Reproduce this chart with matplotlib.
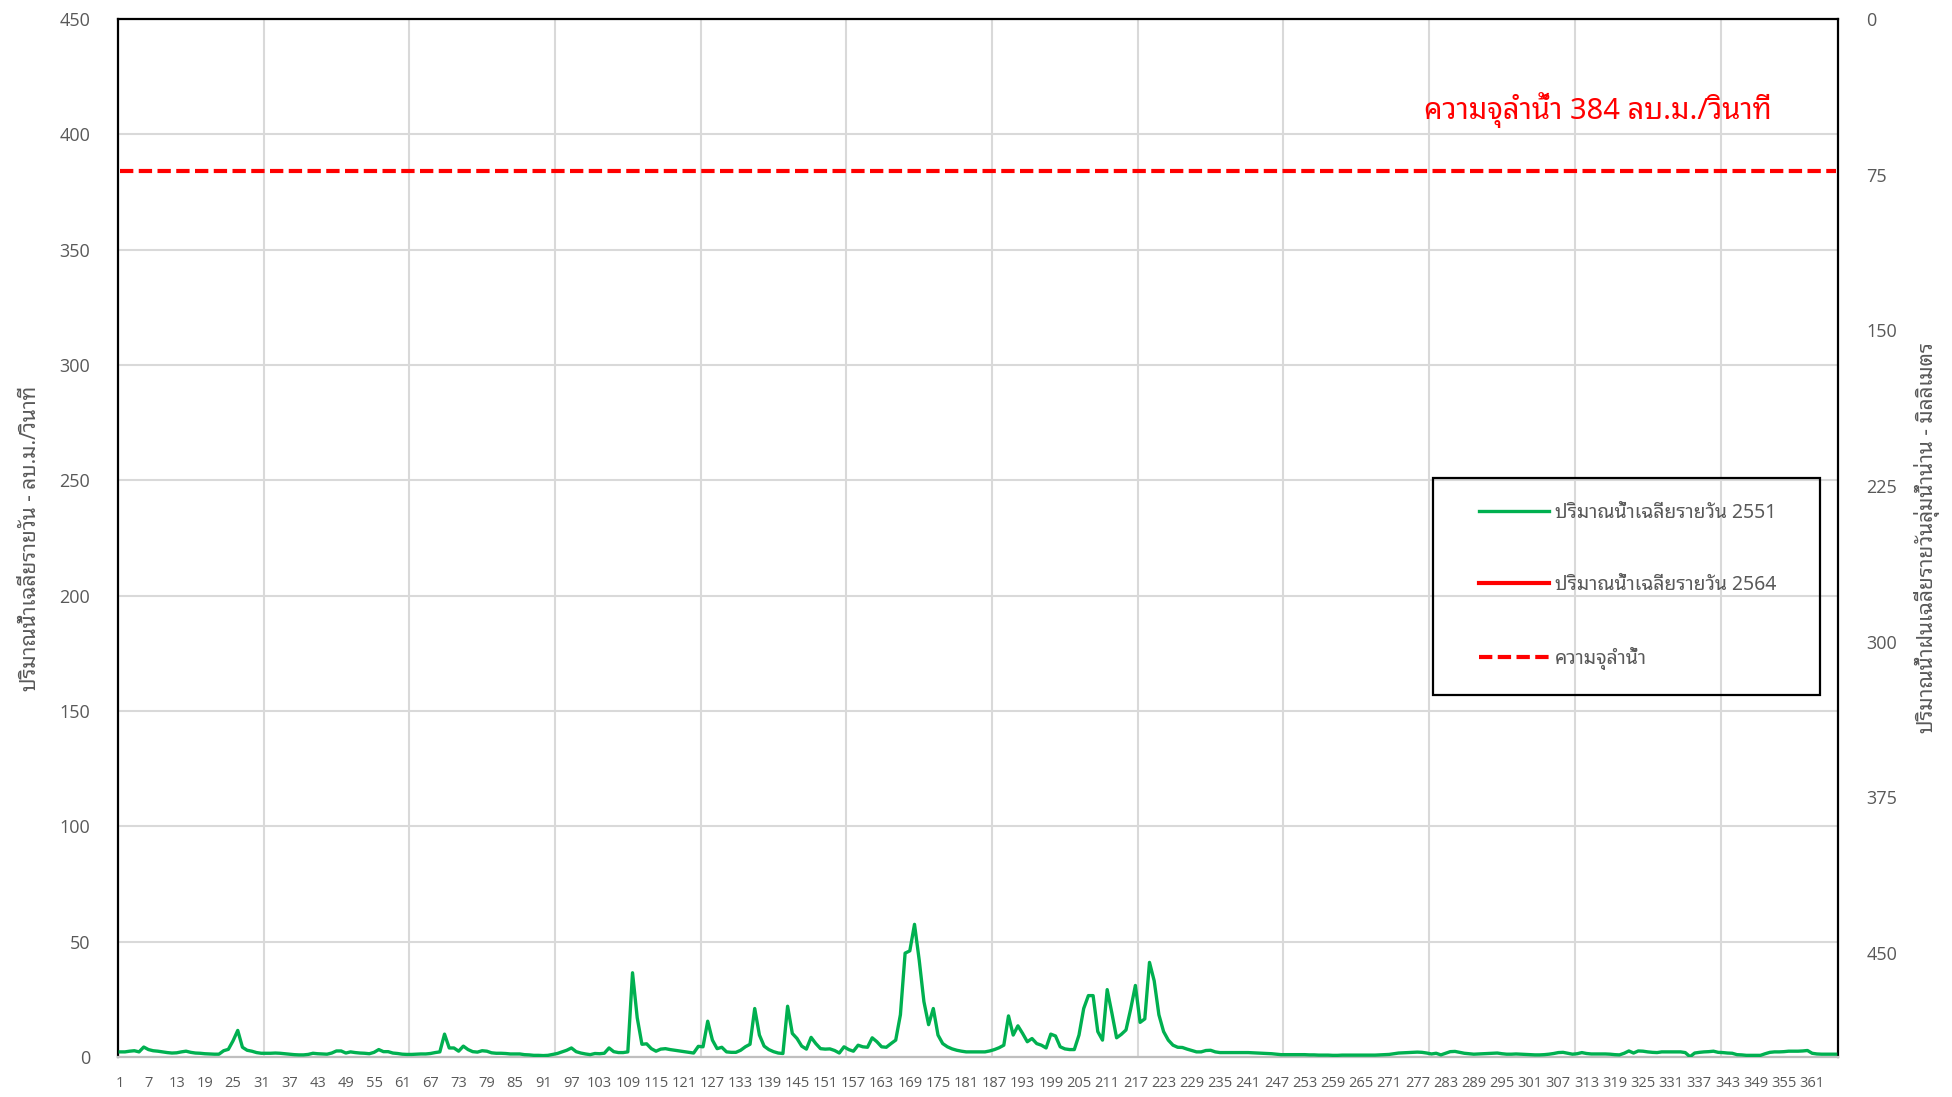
# ปริมาณน้ำเฉลี่ยรายวัน ลุ่มน้ำน่าน ปี 2551 เทียบความจุลำน้ำ
import matplotlib
matplotlib.use("Agg")
import matplotlib.pyplot as plt
import numpy as np
from matplotlib import font_manager
from matplotlib.ft2font import FT2Font
from matplotlib.patches import Rectangle


# ===== ข้อมูล =====
days = np.arange(1, 367)

# ปริมาณน้ำเฉลี่ยรายวัน 2551 (ลบ.ม./วินาที) อ่านจากกราฟ
flow_2551 = [
    2.2, 2.2, 2.5, 2.7, 2.2, 4.3, 3.2, 2.7, 2.5, 2.2,
    1.9, 1.7, 1.8, 2.2, 2.5, 2.0, 1.7, 1.6, 1.4, 1.3,
    1.2, 1.2, 2.7, 3.3, 7.0, 11.5, 4.2, 2.9, 2.5, 1.9,
    1.6, 1.6, 1.6, 1.7, 1.6, 1.4, 1.2, 1.0, 0.9, 0.9,
    1.1, 1.6, 1.4, 1.3, 1.2, 1.7, 2.6, 2.6, 1.7, 2.2,
    1.9, 1.7, 1.6, 1.4, 2.0, 3.2, 2.3, 2.3, 1.7, 1.5,
    1.2, 1.1, 1.1, 1.2, 1.3, 1.3, 1.5, 1.9, 2.2, 9.9,
    3.9, 3.9, 2.5, 4.7, 3.2, 2.3, 2.1, 2.7, 2.5, 1.8,
    1.6, 1.6, 1.5, 1.3, 1.3, 1.3, 1.0, 0.9, 0.7, 0.7,
    0.6, 0.7, 1.1, 1.5, 2.2, 2.9, 3.9, 2.3, 1.7, 1.3,
    1.0, 1.5, 1.4, 1.6, 3.9, 2.3, 1.9, 1.9, 2.2, 36.5,
    17.0, 5.5, 5.7, 3.6, 2.5, 3.4, 3.6, 3.2, 2.9, 2.6,
    2.3, 2.0, 1.7, 4.6, 4.4, 15.5, 7.3, 3.6, 4.2, 2.2,
    2.0, 2.0, 2.9, 4.4, 5.5, 21.0, 9.5, 4.7, 3.2, 2.3,
    1.7, 1.5, 22.0, 10.2, 8.0, 4.7, 3.4, 8.5, 5.8, 3.6,
    3.4, 3.5, 2.8, 1.7, 4.4, 3.2, 2.5, 5.1, 4.4, 4.2,
    8.3, 6.6, 4.4, 4.2, 5.8, 7.3, 18.3, 45.0, 46.0, 57.5,
    42.0, 24.0, 14.0, 21.0, 9.5, 5.8, 4.4, 3.5, 2.9, 2.5,
    2.2, 2.2, 2.2, 2.2, 2.2, 2.6, 3.2, 4.0, 5.1, 17.8,
    9.5, 13.5, 10.2, 6.6, 8.0, 5.8, 5.1, 3.9, 9.9, 9.1,
    4.4, 3.5, 3.2, 3.2, 9.5, 21.0, 26.6, 26.6, 11.0, 7.3,
    29.2, 19.0, 8.3, 9.8, 11.7, 20.8, 31.0, 15.0, 16.5, 41.0,
    33.0, 18.3, 11.0, 7.3, 5.1, 4.2, 4.1, 3.4, 2.8, 2.2,
    2.2, 2.8, 2.9, 2.2, 1.9, 1.9, 1.9, 1.9, 1.9, 1.9,
    1.9, 1.8, 1.7, 1.6, 1.5, 1.4, 1.2, 1.0, 1.0, 1.0,
    1.0, 1.0, 1.0, 0.9, 0.9, 0.8, 0.8, 0.8, 0.7, 0.7,
    0.8, 0.8, 0.8, 0.8, 0.8, 0.8, 0.8, 0.8, 0.9, 1.0,
    1.1, 1.4, 1.7, 1.8, 1.9, 2.0, 2.1, 2.0, 1.7, 1.3,
    1.6, 0.9, 1.6, 2.3, 2.4, 2.0, 1.6, 1.4, 1.2, 1.3,
    1.4, 1.5, 1.6, 1.7, 1.4, 1.2, 1.2, 1.3, 1.2, 1.1,
    1.0, 0.9, 0.9, 1.0, 1.2, 1.5, 1.9, 2.0, 1.6, 1.2,
    1.4, 1.9, 1.5, 1.3, 1.3, 1.3, 1.3, 1.2, 1.0, 0.9,
    1.6, 2.6, 1.7, 2.6, 2.5, 2.2, 2.0, 1.9, 2.2, 2.2,
    2.2, 2.2, 2.2, 1.9, 0.1, 1.7, 2.0, 2.2, 2.3, 2.5,
    2.0, 1.9, 1.7, 1.6, 1.0, 0.9, 0.7, 0.7, 0.7, 0.7,
    1.4, 2.0, 2.2, 2.2, 2.3, 2.5, 2.5, 2.5, 2.6, 2.8,
    1.6, 1.3, 1.2, 1.2, 1.2, 1.2,
]
flow_2564 = []          # ไม่มีข้อมูลปรากฏในกราฟ
capacity = 384          # ความจุลำน้ำ
capacity_line = [capacity] * len(days)

x_labels = list(range(1, 367, 6))
left_ticks = list(range(0, 451, 50))
right_ticks = list(range(0, 451, 75))

label_2551 = "ปริมาณน้ำเฉลี่ยรายวัน 2551"
label_2564 = "ปริมาณน้ำเฉลี่ยรายวัน 2564"
label_cap = "ความจุลำน้ำ"
cap_text = "ความจุลำน้ำ 384 ลบ.ม./วินาที"
left_title = "ปริมาณน้ำเฉลี่ยรายวัน - ลบ.ม./วินาที"
right_title = "ปริมาณน้ำฝนเฉลี่ยรายวันลุ่มน้ำน่าน - มิลลิเมตร"


# หาฟอนต์ที่มีอักษรไทย
def find_thai_font():
    found = []
    for f in font_manager.fontManager.ttflist:
        try:
            cmap = FT2Font(f.fname).get_charmap()
        except Exception:
            continue
        if 0x0E04 in cmap and 0x0E33 in cmap:
            found.append(f.name)
    for pref in ["Noto Sans Thai Looped", "Loma", "Noto Sans Thai UI", "Noto Sans Thai", "Garuda"]:
        if pref in found:
            return pref
    return found[0] if found else "DejaVu Sans"


THAI = find_thai_font()
NUM = "Open Sans"
GRAY = "#595959"
GRID = "#D9D9D9"

plt.rcParams["font.family"] = [THAI, "DejaVu Sans"]

fig = plt.figure(figsize=(19.52, 10.97), dpi=100)
ax = fig.add_axes([0.0604, 0.0365, 0.8812, 0.9462])

ax.plot(days, flow_2551, color="#00B050", lw=2.4, zorder=3, label=label_2551)
ax.plot(days[:len(flow_2564)], flow_2564, color="#FF0000", lw=3, zorder=3, label=label_2564)
ax.plot(days, capacity_line, color="#FF0000", lw=3, dashes=(3.2, 1.3), zorder=3, label=label_cap)

ax.set_xlim(0.5, 366.5)
ax.set_ylim(0, 450)
ax.set_yticks(left_ticks)
ax.set_xticks(x_labels)
ax.set_xticks(np.arange(31.5, 366, 31), minor=True)
ax.grid(axis="y", which="major", color=GRID, lw=1.5, zorder=0)
ax.grid(axis="x", which="minor", color=GRID, lw=1.5, zorder=0)
ax.tick_params(axis="both", which="both", length=0)
ax.tick_params(axis="y", labelsize=13, labelcolor=GRAY, pad=20)
ax.tick_params(axis="x", labelsize=10.5, labelcolor=GRAY, pad=14)
for t in ax.get_xticklabels() + ax.get_yticklabels():
    t.set_fontfamily(NUM)

for s in ["top", "left", "right"]:
    ax.spines[s].set_color("black")
    ax.spines[s].set_linewidth(1.6)
ax.spines["bottom"].set_color("#BFBFBF")
ax.spines["bottom"].set_linewidth(1.6)

ax.set_ylabel(left_title, fontsize=15, color=GRAY)
ax.yaxis.set_label_coords(-0.0447, 0.5)

ax.text(315.3, 410.6, cap_text, color="#FF0000", fontsize=21, ha="center", va="center")

# แกนขวา: ปริมาณน้ำฝน (กลับด้าน)
ax2 = ax.twinx()
ax2.set_ylim(500, 0)
ax2.set_yticks(right_ticks)
ax2.tick_params(axis="y", length=0, labelsize=13, labelcolor=GRAY, pad=20.5)
for t in ax2.get_yticklabels():
    t.set_fontfamily(NUM)
for s in ax2.spines.values():
    s.set_visible(False)
ax2.set_ylabel(right_title, fontsize=15, color=GRAY, rotation=90)
ax2.yaxis.set_label_coords(1.044, 0.5)

# คำอธิบายสัญลักษณ์
handles, labels = ax.get_legend_handles_labels()
leg = ax2.legend(handles, labels, loc="upper left", bbox_to_anchor=(1479 / 1952, 1 - 503 / 1097),
                 bbox_transform=fig.transFigure, frameon=False, fontsize=14,
                 handlelength=3.6, handletextpad=0.3, labelspacing=2.66,
                 borderpad=0, borderaxespad=0)
for t in leg.get_texts():
    t.set_color(GRAY)
fig.patches.append(Rectangle((1433 / 1952, 1 - 695 / 1097), (1820 - 1433) / 1952, (695 - 478) / 1097,
                             transform=fig.transFigure, fill=False, edgecolor="black", lw=1.6, zorder=10))

fig.savefig("out.png", dpi=100)
